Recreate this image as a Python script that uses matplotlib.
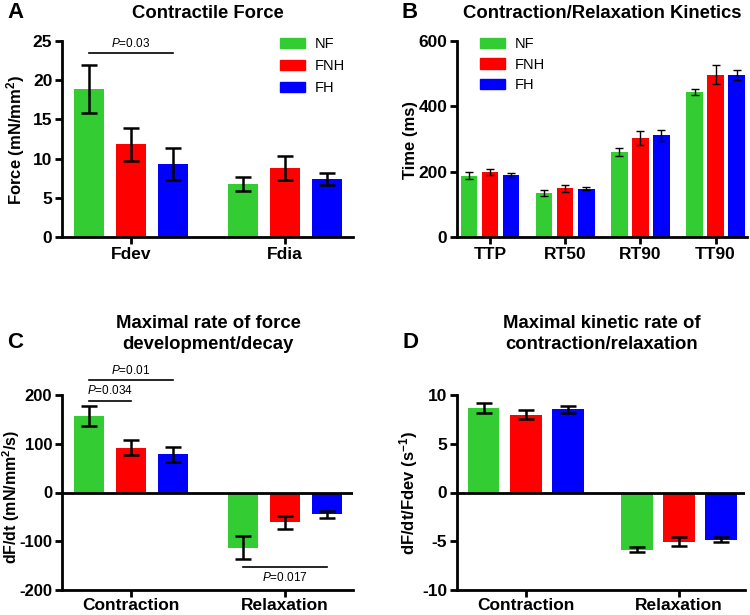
import numpy as np
import matplotlib
matplotlib.use('Agg')
import matplotlib.pyplot as plt
from matplotlib.patches import Patch

plt.rcParams['font.family'] = ['Liberation Sans', 'DejaVu Sans']
plt.rcParams['mathtext.fontset'] = 'custom'
plt.rcParams['mathtext.it'] = 'Liberation Sans:italic'
plt.rcParams['mathtext.rm'] = 'Liberation Sans'
plt.rcParams['mathtext.bf'] = 'Liberation Sans:bold'
plt.rcParams['axes.unicode_minus'] = False

# colores de los grupos
series = ['NF', 'FNH', 'FH']
colors = ['#33cc33', '#ff0000', '#0000ff']

# A - fuerza contractil
cats_a = ['Fdev', 'Fdia']
nf_a = [18.9, 6.8]
nf_a_err = [3.1, 0.9]
fnh_a = [11.8, 8.8]
fnh_a_err = [2.1, 1.5]
fh_a = [9.3, 7.4]
fh_a_err = [2.05, 0.8]

# B - cinetica
cats_b = ['TTP', 'RT50', 'RT90', 'TT90']
nf_b = [188, 135, 260, 444]
nf_b_err = [10, 8, 13, 10]
fnh_b = [198, 149, 303, 497]
fnh_b_err = [9, 10, 21, 29]
fh_b = [190, 148, 311, 497]
fh_b_err = [6, 5, 17, 15]

# C - dF/dt
cats_c = ['Contraction', 'Relaxation']
nf_c = [157, -113]
nf_c_err = [20, 24]
fnh_c = [92, -61]
fnh_c_err = [16, 13]
fh_c = [78, -45]
fh_c_err = [16, 8]

# D - dF/dt/Fdev
cats_d = ['Contraction', 'Relaxation']
nf_d = [8.7, -5.85]
nf_d_err = [0.5, 0.3]
fnh_d = [8.0, -5.05]
fnh_d_err = [0.5, 0.45]
fh_d = [8.55, -4.85]
fh_d_err = [0.35, 0.25]

W, H = 750, 615
fig = plt.figure(figsize=(7.5, 6.15), dpi=100)


def rect(x0, x1, ytop, ybot):
    return [x0 / W, 1 - ybot / H, (x1 - x0) / W, (ybot - ytop) / H]


def style(ax, ysize=12.5):
    for s in ['top', 'right']:
        ax.spines[s].set_visible(False)
    for s in ['left', 'bottom']:
        ax.spines[s].set_linewidth(2.0)
    ax.tick_params(axis='both', width=2.0, length=5, pad=2)
    ax.tick_params(axis='y', labelsize=ysize)
    ax.tick_params(axis='x', labelsize=12.5)
    for lab in ax.get_xticklabels() + ax.get_yticklabels():
        lab.set_fontweight('bold')


def bars(ax, centers, vals, errs, width, lw, cap):
    for k in range(3):
        x = np.array(centers) + (k - 1)
        ax.bar(x, vals[k], width=width, color=colors[k], zorder=2)
        ax.errorbar(x, vals[k], yerr=errs[k], fmt='none', ecolor='black',
                    elinewidth=lw, capsize=cap, capthick=lw, zorder=3)


def sig(ax, x0, x1, y, ytxt, txt):
    ax.plot([x0, x1], [y, y], color='black', lw=1.2, clip_on=False)
    ax.text((x0 + x1) / 2, ytxt, r'$\it{P}$=' + txt, ha='center', va='center',
            fontsize=8.5)


# ---------- A ----------
axA = fig.add_axes(rect(62, 353, 41, 237))
ca = [0, 3.67]
bars(axA, ca, [nf_a, fnh_a, fh_a], [nf_a_err, fnh_a_err, fh_a_err], 0.72, 1.8, 6)
axA.set_xlim(-1.64, 5.29)
axA.set_ylim(0, 25)
axA.set_yticks([0, 5, 10, 15, 20, 25])
axA.set_xticks(ca)
axA.set_xticklabels(cats_a)
style(axA)
sig(axA, -1, 1, 23.5, 24.7, '0.03')
axA.legend([Patch(color=c) for c in colors], series, loc='upper left',
           bbox_to_anchor=(280 / W, 1 - 37 / H), bbox_transform=fig.transFigure,
           frameon=False, fontsize=10.5, handlelength=1.7, handleheight=0.75,
           labelspacing=0.55, borderpad=0, borderaxespad=0, handletextpad=0.7)

# ---------- B ----------
axB = fig.add_axes(rect(457, 747, 41, 237))
cb = [0, 3.57, 7.14, 10.71]
bars(axB, cb, [nf_b, fnh_b, fh_b], [nf_b_err, fnh_b_err, fh_b_err], 0.78, 1.0, 3)
axB.set_xlim(-1.57, 12.2)
axB.set_ylim(0, 600)
axB.set_yticks([0, 200, 400, 600])
axB.set_xticks(cb)
axB.set_xticklabels(cats_b)
style(axB)
axB.legend([Patch(color=c) for c in colors], series, loc='upper left',
           bbox_to_anchor=(480 / W, 1 - 37 / H), bbox_transform=fig.transFigure,
           frameon=False, fontsize=10.5, handlelength=1.7, handleheight=0.75,
           labelspacing=0.45, borderpad=0, borderaxespad=0, handletextpad=0.7)

# ---------- C ----------
axC = fig.add_axes(rect(62, 353, 395, 590))
cc = [0, 3.67]
bars(axC, cc, [nf_c, fnh_c, fh_c], [nf_c_err, fnh_c_err, fh_c_err], 0.72, 1.8, 6)
axC.axhline(0, color='black', lw=2.0, zorder=4)
axC.set_xlim(-1.64, 5.29)
axC.set_ylim(-200, 200)
axC.set_yticks([-200, -100, 0, 100, 200])
axC.set_xticks(cc)
axC.set_xticklabels(cats_c)
style(axC, ysize=12)
axC.tick_params(axis='x', pad=1)
sig(axC, -1, 1, 231, 250, '0.01')
sig(axC, -1, 0, 188, 209, '0.034')
sig(axC, 2.67, 4.67, -152, -174, '0.017')

# ---------- D ----------
axD = fig.add_axes(rect(457, 745, 395, 590))
cd = [0, 3.64]
bars(axD, cd, [nf_d, fnh_d, fh_d], [nf_d_err, fnh_d_err, fh_d_err], 0.74, 1.8, 6)
axD.axhline(0, color='black', lw=2.0, zorder=4)
axD.set_xlim(-1.64, 5.21)
axD.set_ylim(-10, 10)
axD.set_yticks([-10, -5, 0, 5, 10])
axD.set_xticks(cd)
axD.set_xticklabels(cats_d)
style(axD)
axD.tick_params(axis='x', pad=1)

# titulos, letras y ejes
fig.text(208 / W, 1 - 13 / H, 'Contractile Force', ha='center', va='center',
         fontsize=13.3, fontweight='bold')
fig.text(602 / W, 1 - 13 / H, 'Contraction/Relaxation Kinetics', ha='center',
         va='center', fontsize=13.3, fontweight='bold')
fig.text(208 / W, 1 - 334 / H, 'Maximal rate of force\ndevelopment/decay',
         ha='center', va='center', fontsize=13.3, fontweight='bold',
         linespacing=1.25)
fig.text(602 / W, 1 - 334 / H, 'Maximal kinetic rate of\ncontraction/relaxation',
         ha='center', va='center', fontsize=13.3, fontweight='bold',
         linespacing=1.25)

for lt, x, y in [('A', 15, 13), ('B', 410, 13), ('C', 15, 343), ('D', 410, 343)]:
    fig.text(x / W, 1 - y / H, lt, ha='center', va='center', fontsize=16,
             fontweight='bold')

fig.text(16 / W, 1 - 140 / H, r'Force (mN/mm$^\mathbf{2}$)', rotation=90,
         ha='center', va='center', fontsize=12, fontweight='bold')
fig.text(410 / W, 1 - 140 / H, 'Time (ms)', rotation=90, ha='center',
         va='center', fontsize=12, fontweight='bold')
fig.text(11 / W, 1 - 497 / H, r'dF/dt (mN/mm$^\mathbf{2}$/s)', rotation=90,
         ha='center', va='center', fontsize=11.5, fontweight='bold')
fig.text(409 / W, 1 - 493 / H, r'dF/dt/Fdev (s$^\mathbf{-1}$)', rotation=90,
         ha='center', va='center', fontsize=12, fontweight='bold')

fig.savefig('out.png', dpi=100)
